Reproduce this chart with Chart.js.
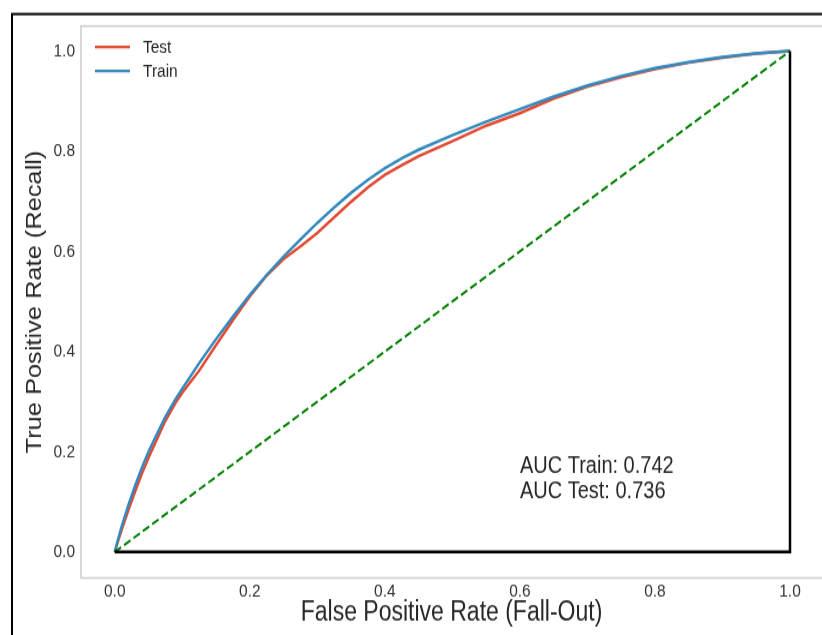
<!DOCTYPE html>
<html>
<head>
<meta charset="utf-8">
<script src="https://cdn.jsdelivr.net/npm/chart.js"></script>
<style>
body { margin:0; background:#fff; overflow:hidden; }
#wrap { width:822px; height:635px; position:relative; }
</style>
</head>
<body>
<div id="wrap"><canvas id="rocChart" width="822" height="529" style="width:822px;height:635px"></canvas></div>
<script>
// false positive rate samples
const fpr = [0, 0.005, 0.01, 0.02, 0.03, 0.04, 0.05, 0.06, 0.075, 0.09, 0.1, 0.125, 0.15, 0.175, 0.2, 0.225, 0.25, 0.275, 0.3, 0.325, 0.35, 0.375, 0.4, 0.425, 0.45, 0.5, 0.55, 0.6, 0.65, 0.7, 0.75, 0.8, 0.85, 0.9, 0.95, 1.0];
const tprTrain = [0, 0.026, 0.05, 0.093, 0.132, 0.168, 0.2, 0.229, 0.27, 0.305, 0.326, 0.377, 0.425, 0.47, 0.513, 0.553, 0.59, 0.624, 0.657, 0.688, 0.717, 0.743, 0.766, 0.786, 0.803, 0.832, 0.859, 0.884, 0.909, 0.931, 0.95, 0.966, 0.978, 0.988, 0.995, 1.0];
const tprTest = [0, 0.022, 0.043, 0.083, 0.12, 0.156, 0.188, 0.218, 0.262, 0.298, 0.318, 0.362, 0.413, 0.463, 0.51, 0.552, 0.585, 0.61, 0.637, 0.668, 0.699, 0.728, 0.753, 0.772, 0.79, 0.82, 0.851, 0.876, 0.905, 0.929, 0.948, 0.964, 0.977, 0.987, 0.995, 1.0];
const diagX = [0, 1];
const diagY = [0, 1];
const edgeX = [0, 1, 1];
const edgeY = [0, 0, 1];
const xTicks = [0, 0.2, 0.4, 0.6, 0.8, 1.0];
const yTicks = [0, 0.2, 0.4, 0.6, 0.8, 1.0];
const seriesNames = ['Test', 'Train'];
const aucLines = ['AUC Train: 0.742', 'AUC Test: 0.736'];

function pts(xs, ys){
    return xs.map(function(x, i){ return {x: x, y: ys[i]}; });
}

var FONT = '"Liberation Sans", Arial, sans-serif';
var RED = '#E24A33';
var BLUE = '#348ABD';
// the canvas is drawn short and stretched to 635 tall, like the picture
var SY = 635 / 529;

// frame, axes box, legend and the AUC note
var extras = {
    id: 'extras',
    beforeDatasetsDraw: function(chart){
        var c = chart.ctx, a = chart.chartArea;
        c.save();
        c.strokeStyle = '#cccccc';
        c.lineWidth = 1.5;
        c.strokeRect(a.left, a.top, a.right - a.left + 10, a.bottom - a.top);
        c.restore();
    },
    afterDraw: function(chart){
        var c = chart.ctx;
        var xs = chart.scales.x, ys = chart.scales.y;
        c.save();
        c.strokeStyle = '#000';
        c.lineWidth = 2;
        c.strokeRect(12, 14 / SY, 900, 700);

        // legend
        var cols = [RED, BLUE];
        c.font = '15.5px ' + FONT;
        c.textBaseline = 'middle';
        for (var i = 0; i < seriesNames.length; i++) {
            var ly = (47 + i * 24) / SY;
            c.strokeStyle = cols[i];
            c.lineWidth = 2.2;
            c.beginPath();
            c.moveTo(95, ly);
            c.lineTo(130, ly);
            c.stroke();
            c.fillStyle = '#262626';
            c.fillText(seriesNames[i], 143, ly + 0.5);
        }

        // auc text
        c.font = '20px ' + FONT;
        c.fillStyle = '#262626';
        var tx = xs.getPixelForValue(0.6);
        for (var j = 0; j < aucLines.length; j++) {
            c.fillText(aucLines[j], tx, ys.getPixelForValue(0.171 - j * 0.05));
        }
        c.restore();
    }
};

var ctx = document.getElementById('rocChart').getContext('2d');
var rocChart = new Chart(ctx, {
    type: 'scatter',
    data: {
        datasets: [
            { label: 'edge', data: pts(edgeX, edgeY), showLine: true, borderColor: '#000', borderWidth: 2.5, pointRadius: 0, tension: 0 },
            { label: 'chance', data: pts(diagX, diagY), showLine: true, borderColor: '#008000', borderWidth: 2, borderDash: [7.5, 3.5], pointRadius: 0, tension: 0 },
            { label: seriesNames[1], data: pts(fpr, tprTrain), showLine: true, borderColor: BLUE, borderWidth: 2.5, pointRadius: 0, tension: 0 },
            { label: seriesNames[0], data: pts(fpr, tprTest), showLine: true, borderColor: RED, borderWidth: 2.5, pointRadius: 0, tension: 0 }
        ]
    },
    options: {
        responsive: false,
        animation: false,
        devicePixelRatio: 1,
        layout: { padding: { top: 26 / SY, left: 0, right: 0, bottom: 0 } },
        plugins: { legend: { display: false }, tooltip: { enabled: false } },
        scales: {
            x: {
                type: 'linear',
                min: -0.05,
                max: 1.0474,
                grid: { display: false, drawTicks: false },
                border: { display: false },
                afterBuildTicks: function(s){ s.ticks = xTicks.map(function(v){ return {value: v}; }); },
                afterFit: function(s){ s.height = 529 - 578 / SY; },
                ticks: {
                    padding: 2,
                    color: '#333',
                    font: { family: FONT, size: 15.5 },
                    callback: function(v){ return v.toFixed(1); }
                },
                title: {
                    display: true,
                    text: 'False Positive Rate (Fall-Out)',
                    color: '#262626',
                    font: { family: FONT, size: 23 },
                    padding: { top: 0, bottom: 5 }
                }
            },
            y: {
                type: 'linear',
                min: -0.052,
                max: 1.05,
                grid: { display: false, drawTicks: false },
                border: { display: false },
                afterBuildTicks: function(s){ s.ticks = yTicks.map(function(v){ return {value: v}; }); },
                afterFit: function(s){ s.width = 81; },
                ticks: {
                    padding: 6,
                    color: '#333',
                    font: { family: FONT, size: 15.5 },
                    callback: function(v){ return v.toFixed(1); }
                },
                title: {
                    display: true,
                    text: 'True Positive Rate (Recall)',
                    color: '#262626',
                    font: { family: FONT, size: 21.2 },
                    padding: { top: 22, bottom: 0 }
                }
            }
        }
    },
    plugins: [extras]
});
</script>
</body>
</html>
